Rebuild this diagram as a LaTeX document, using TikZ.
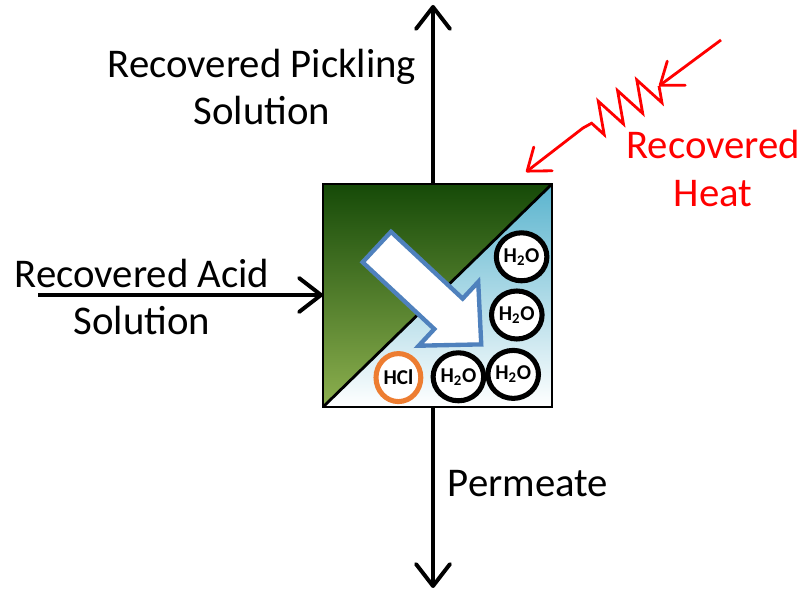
\documentclass[tikz,border=0pt]{standalone}
\usepackage{fontspec}
\setmainfont{Carlito}
\usetikzlibrary{arrows.meta,shapes.geometric,decorations.pathmorphing}
\definecolor{leafdark}{HTML}{164A08}
\definecolor{leafmid}{HTML}{2C6014}
\definecolor{leaflight}{HTML}{8DB04F}
\definecolor{waterblue}{HTML}{5AB4CE}
\definecolor{outlineblue}{HTML}{4F81BD}
\definecolor{hclorange}{HTML}{ED7D31}
\tikzset{
	flow/.style={line width=2.8pt, -{Straight Barb[length=5.5mm,width=8.5mm,round]}},
	heatflow/.style={red, line width=2pt, -{Straight Barb[length=5mm,width=7.5mm,round]}},
	flowtext/.style={font=\fontsize{29}{34}\selectfont, align=center},
	molecule/.style={ellipse, draw=black, fill=white, line width=3.6pt, minimum width=1.12cm, minimum height=1.2cm, inner sep=0pt, font=\fontsize{15}{17}\selectfont\bfseries},
}
\begin{document}
\begin{tikzpicture}
					\useasboundingbox (0,0) rectangle (20.125,14.85);
					
					\node[minimum width=5.725cm, minimum height=5.575cm, inner sep=0pt, outer sep=0pt] (cell) at (10.9375,7.4625) {};
					\fill[top color=leafdark, middle color=leafmid, bottom color=leaflight] (cell.south west) -- (cell.north west) -- (cell.north east) -- cycle;
					\fill[top color=waterblue, bottom color=white] (cell.south west) -- (cell.north east) -- (cell.south east) -- cycle;
					\draw[line width=2pt] (cell.south west) -- (cell.north east);
					\draw[line width=1.3pt] (cell.south west) rectangle (cell.north east);
					
					\begin{scope}[shift={(9.42,8.675)}, rotate=-43]
						\draw[draw=outlineblue, fill=white, line width=3.1pt] (0,-0.52) -- (2.45,-0.52) -- (2.45,-1.09) -- (3.57,0) -- (2.45,1.09) -- (2.45,0.52) -- (0,0.52) -- cycle;
					\end{scope}
					
					\node[molecule] (water1) at (13.04,8.43) {H\textsubscript{2}O};
					\node[molecule] (water2) at (12.92,6.975) {H\textsubscript{2}O};
					\node[molecule] (water3) at (12.83,5.49) {H\textsubscript{2}O};
					\node[molecule] (water4) at (11.46,5.43) {H\textsubscript{2}O};
					\node[molecule, draw=hclorange] (hcl) at (9.96,5.41) {HCl};
					
					\coordinate (pickling) at (10.825,14.725);
					\coordinate (permeate) at (10.825,0.15);
					\coordinate (acid) at (0.95,7.475);
					\draw[flow] (pickling |- cell.north) -- (pickling);
					\draw[flow] (pickling |- cell.south) -- (permeate);
					\draw[flow] (acid) -- (acid -| cell.west);
					
					\coordinate (heatstart) at (18.025,13.85);
					\coordinate (heatmid) at (16.475,12.7);
					\coordinate (zigend) at (14.575,11.65);
					\coordinate (heattip) at (13.15,10.55);
					\draw[heatflow] (heatstart) -- (heatmid);
					\draw[heatflow] (heatmid) decorate[decoration={zigzag, segment length=0.55cm, amplitude=0.4cm}] {-- (zigend)} -- (heattip);
					
					\node[flowtext] (picklingtext) at (6.55,12.675) {Recovered Pickling\\Solution};
					\node[flowtext] (acidtext) at (3.55,7.425) {Recovered Acid\\Solution};
					\node[flowtext] (permeatetext) at (13.2,2.75) {Permeate};
					\node[flowtext, text=red] (heattext) at (17.83,10.63) {Recovered\\Heat};
				\end{tikzpicture}
\end{document}
